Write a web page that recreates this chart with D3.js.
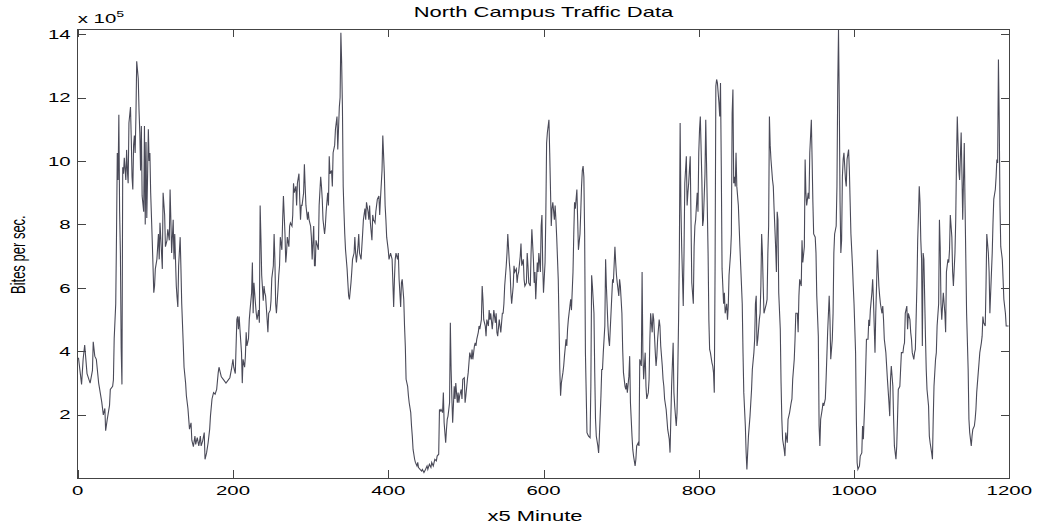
<!DOCTYPE html>
<html>
<head>
<meta charset="utf-8">
<script src="https://cdn.jsdelivr.net/npm/d3@7/dist/d3.min.js"></script>
<style>
  html, body { margin: 0; padding: 0; background: #fff; }
  svg { display: block; }
  text { font-family: "Liberation Sans", Arial, Helvetica, sans-serif; fill: #000; }
</style>
</head>
<body>
<svg id="chart" width="1039" height="528"></svg>
<script>
// North Campus traffic, one sample every 5 minutes; values in units of 10^5 bits/s.
const sampleIndex = [
  1,5,7,9,12,16,19,20,22,24,27,29,31,33,35,36,38,41,42,45,46,47,49,50,51,52,53,54,55,56,57,58,59,60,62,63,64,65,66,68,69,70,71,72,73,74,75,76,78,79,80,81,82,83,85,86,87,88,89,90,91,92,93,94,96,97,98,99,100,102,103,104,105,106,108,109,110,112,113,115,116,118,119,120,121,123,124,125,127,128,129,130,132,133,134,136,137,139,140,142,144,146,147,149,151,152,154,156,158,159,161,163,164,166,168,170,171,173,175,177,179,181,182,
  185,188,191,194,196,198,200,201,203,205,206,207,208,209,211,212,213,215,216,217,218,220,221,222,224,225,226,227,229,230,231,233,234,235,236,237,239,240,241,242,244,245,246,248,249,250,252,253,254,255,256,258,259,260,261,263,264,265,267,268,269,270,272,273,274,276,277,278,279,281,282,283,285,286,287,288,289,291,292,293,294,296,297,298,300,301,302,304,305,306,307,309,310,311,313,314,315,316,318,319,320,322,323,324,325,327,328,329,331,332,333,334,335,337,338,339,340,341,342,343,344,345,347,348,349,350,352,353,354,356,357,358,359,361,362,363,365,366,367,368,370,371,372,374,375,376,377,379,380,381,383,384,385,386,388,389,390,392,393,395,396,397,398,400,
  401,403,404,405,407,408,409,410,412,413,414,416,417,418,420,421,422,423,425,426,427,429,430,431,432,434,435,437,438,439,441,443,444,446,448,450,451,453,455,456,458,460,462,463,465,466,467,468,470,471,472,474,475,476,477,479,480,481,482,483,485,486,487,489,490,491,492,494,495,496,498,499,500,502,503,504,505,507,508,509,511,512,513,514,516,517,518,520,521,522,523,525,526,527,529,530,531,532,534,535,536,538,539,540,541,543,544,545,547,548,549,550,552,553,554,556,557,558,559,561,562,563,565,566,567,568,570,571,572,574,575,576,578,579,580,581,583,584,585,587,588,589,590,592,593,594,
  596,597,598,599,600,602,603,604,605,607,608,610,611,612,614,615,616,617,619,620,621,622,623,625,626,627,629,630,631,632,634,635,636,638,639,640,641,643,644,645,647,648,649,650,651,652,653,654,656,658,660,661,662,663,665,666,667,668,670,671,672,674,675,676,677,679,680,681,683,684,685,686,688,689,690,692,693,694,695,697,698,699,701,702,703,705,706,707,708,710,711,712,714,715,716,718,719,720,722,723,724,726,727,728,729,731,732,733,735,736,737,738,740,741,742,744,745,746,747,749,750,751,753,754,755,756,758,759,760,762,763,764,765,767,768,769,771,772,773,774,775,776,777,778,780,781,782,784,785,786,787,789,790,791,793,794,795,796,798,799,800,
  801,802,804,805,806,808,809,810,812,813,814,815,817,818,819,820,821,822,823,824,826,827,828,829,830,832,833,834,836,837,838,839,841,842,843,844,845,846,847,848,849,851,852,853,854,856,857,858,860,861,862,863,864,866,867,868,869,871,872,873,874,875,876,878,879,880,881,882,883,884,885,887,888,889,890,891,892,893,895,896,897,899,900,901,902,903,905,906,907,908,910,911,912,914,915,916,917,919,920,921,923,924,925,927,928,929,930,932,933,934,936,937,938,939,941,942,943,945,946,947,948,950,951,952,954,955,956,957,959,960,961,963,964,965,966,968,969,970,972,973,974,975,977,978,979,980,981,982,983,984,985,986,987,989,990,991,993,994,995,996,998,999,1000,1002,1003,1004,1005,1007,
  1008,1010,1011,1012,1014,1015,1016,1018,1019,1020,1021,1023,1024,1025,1027,1028,1029,1030,1032,1033,1034,1036,1037,1038,1039,1041,1042,1043,1045,1046,1047,1048,1050,1051,1052,1054,1055,1056,1057,1059,1060,1061,1063,1064,1065,1066,1068,1069,1070,1072,1073,1074,1075,1077,1078,1079,1081,1082,1083,1084,1085,1086,1087,1088,1089,1090,1092,1093,1094,1096,1097,1098,1100,1101,1102,1103,1105,1106,1107,1109,1110,1111,1112,1113,1114,1115,1117,1118,1119,1121,1122,1123,1124,1126,1127,1128,1130,1131,1132,1133,1134,1135,1136,1138,1139,1140,1142,1143,1144,1145,1147,1148,1149,1151,1152,1153,1155,1156,1157,1158,1160,1161,1162,1164,1165,1166,1167,1169,1170,1171,1173,1174,1175,1176,1178,1179,1180,1182,1183,1184,1185,1186,1187,1188,1189,1191,1192,1193,1195,1196,1198,1199
];
const bitsPerSec = [
  3.8,2.96,3.75,4.2,3.3,3.0,3.4,4.3,3.85,3.75,3.0,2.7,2.4,2.0,2.2,1.5,1.85,2.3,2.8,2.9,3.1,4.4,5.5,7.7,10.25,9.4,11.46,8.4,7.1,4.1,2.96,9.8,9.6,10.1,9.4,10.35,9.7,9.3,11.2,11.7,10.7,9.5,9.1,10.5,10.8,10.25,11.4,13.14,12.6,11.6,10.9,9.7,11.1,8.9,8.4,11.1,8.0,10.6,8.2,9.5,11.0,10.0,10.25,9.0,7.5,6.7,5.85,6.06,6.6,6.9,7.3,7.7,6.9,8.05,7.1,6.6,9.0,8.3,7.3,7.5,7.85,7.5,9.1,8.15,7.1,8.15,6.9,7.7,6.06,5.7,5.4,6.7,7.6,6.6,5.5,4.2,3.5,3.0,2.6,2.2,1.55,1.75,1.2,1.0,1.33,1.07,1.28,1.02,1.33,1.02,1.18,1.44,0.6,0.8,1.12,1.55,1.96,2.5,2.7,2.65,2.8,3.33,3.5,
  3.2,3.1,3.0,3.1,3.17,3.43,3.75,3.5,3.3,5.0,5.1,4.7,5.1,4.7,3.96,3.0,3.75,3.5,3.85,4.6,4.17,4.4,5.0,5.3,5.85,6.8,5.2,6.16,5.5,5.2,5.0,5.3,4.9,8.6,7.6,6.4,5.6,6.06,5.85,5.75,5.0,4.6,5.2,5.3,5.6,6.3,6.7,7.7,6.9,5.5,5.2,5.95,6.4,6.7,7.6,7.2,8.15,8.9,7.7,6.8,7.1,7.6,7.3,7.95,8.05,7.95,8.3,9.3,9.0,9.2,8.6,9.3,9.6,8.8,8.15,8.6,8.6,9.0,9.9,9.2,8.6,8.15,8.4,8.15,7.95,7.6,6.9,7.95,6.7,6.7,7.5,7.3,7.2,8.6,9.5,9.2,8.8,8.15,7.7,7.95,8.4,9.0,8.6,10.15,9.6,9.7,9.2,10.26,10.5,11.0,11.2,11.4,10.36,11.7,12.0,14.04,13.1,11.7,9.2,8.4,7.7,7.2,6.6,6.16,5.75,5.64,6.16,6.5,6.9,7.1,7.6,7.1,6.8,7.3,7.7,7.1,6.9,7.3,7.7,8.15,8.5,8.15,8.7,8.4,8.15,8.6,8.05,7.5,8.3,8.15,8.05,8.4,8.6,8.8,8.9,8.3,8.8,9.7,10.8,9.6,8.6,8.15,7.6,7.2,
  6.9,7.1,7.0,6.9,5.4,6.27,6.9,7.1,6.9,7.1,6.27,5.4,6.16,6.27,5.64,4.8,4.17,3.12,2.9,2.6,2.38,2.07,1.65,1.33,0.91,0.6,0.5,0.39,0.5,0.34,0.28,0.23,0.28,0.18,0.28,0.39,0.28,0.44,0.34,0.5,0.39,0.6,0.55,0.7,0.76,2.17,2.12,2.17,2.07,2.7,1.75,1.12,1.54,1.86,1.96,2.38,4.9,3.43,2.5,1.75,2.9,2.5,3.0,2.38,2.7,2.38,2.6,2.8,2.5,3.12,3.17,2.38,2.6,3.12,3.33,3.64,3.96,3.75,4.06,3.75,4.17,4.27,4.17,4.38,4.6,4.8,4.7,5.0,6.06,5.64,5.0,4.8,4.48,5.0,4.8,5.3,5.0,5.2,4.7,5.0,5.3,4.9,5.2,4.6,4.48,5.0,4.8,4.6,5.2,5.2,5.5,6.06,6.7,7.1,7.7,6.8,6.5,5.85,5.5,6.06,6.7,6.5,6.6,6.16,6.4,6.5,7.0,7.4,6.7,6.9,6.27,6.06,6.16,7.1,6.7,6.16,6.06,7.1,7.85,6.9,6.16,6.5,5.64,6.8,6.5,7.1,
  6.5,7.95,8.3,6.7,5.85,6.8,8.3,10.57,10.9,11.3,10.26,7.95,8.5,8.7,8.15,8.6,8.15,7.6,6.27,4.9,3.43,2.6,3.0,3.33,3.54,3.85,4.38,4.17,4.7,5.0,5.43,5.64,5.3,6.5,7.7,8.7,8.5,9.1,8.15,7.2,7.7,8.4,9.2,9.7,9.84,9.5,7.7,3.96,1.44,1.33,1.28,2.9,6.4,6.06,5.2,3.33,1.86,1.33,1.02,0.8,1.33,2.6,3.43,3.43,3.96,4.8,6.9,6.06,4.8,4.38,4.17,4.7,5.75,6.27,6.16,7.3,6.8,6.4,6.16,5.75,6.27,6.06,5.2,4.06,3.33,2.9,2.8,3.0,2.7,3.22,3.85,2.38,1.33,0.91,0.7,0.39,0.6,1.02,1.12,1.02,3.75,3.54,6.5,3.96,3.12,3.96,2.9,2.5,2.7,3.12,4.38,5.2,4.6,5.2,5.0,3.96,3.54,3.85,4.38,5.0,4.8,4.17,3.54,3.12,2.9,2.5,2.17,1.86,1.54,1.23,0.81,1.86,2.9,4.27,2.7,2.28,1.65,2.07,3.43,5.0,7.1,11.2,8.6,7.3,5.43,7.1,9.3,10.15,8.6,9.0,9.3,10.15,8.15,6.16,5.5,7.3,7.95,8.15,9.0,8.4,10.26,
  11.0,11.4,9.4,7.95,8.15,9.6,11.3,9.94,7.1,5.0,4.06,3.96,3.64,3.54,3.33,2.7,6.6,12.36,12.57,12.46,11.83,11.4,12.46,9.84,6.6,5.5,5.85,5.2,5.5,5.0,5.43,6.4,7.1,7.7,11.5,12.25,9.3,9.5,9.2,10.26,9.2,8.6,7.95,7.3,6.7,5.5,3.96,2.7,1.65,0.81,0.28,0.81,1.33,1.96,2.38,2.8,3.43,3.96,4.38,5.5,5.75,4.17,4.38,5.0,5.2,6.06,7.7,7.1,6.06,5.2,5.3,5.5,5.64,7.1,7.95,11.4,10.5,10.05,9.4,9.2,8.5,7.3,6.5,8.4,8.15,5.85,4.7,3.0,1.86,1.23,0.91,0.7,1.44,1.12,1.86,1.96,2.07,2.38,2.5,3.12,3.75,4.38,5.2,5.2,4.6,5.75,6.27,6.06,7.5,6.8,7.3,10.05,9.0,8.6,9.0,8.8,10.26,11.3,10.05,8.7,7.7,7.6,7.1,5.75,4.48,1.65,1.02,1.86,2.17,2.38,2.28,2.5,3.12,3.85,4.6,5.75,5.0,3.75,4.38,5.2,7.1,7.7,7.95,9.2,12.36,14.14,11.83,8.7,7.1,7.5,9.5,10.05,10.26,9.4,9.2,10.05,10.36,9.7,8.7,7.7,6.7,6.06,5.5,3.96,1.86,0.49,0.28,0.39,
  0.7,0.8,1.65,1.23,2.5,3.43,4.38,4.38,5.0,4.8,5.3,5.85,6.27,5.64,3.96,5.2,6.06,7.2,6.06,5.75,5.5,5.2,5.43,5.0,4.38,3.96,3.54,3.12,2.38,1.96,3.12,3.54,2.9,1.86,1.02,0.6,1.02,1.86,2.8,2.9,3.43,3.96,3.96,4.17,4.27,5.2,5.43,4.7,5.2,5.0,4.6,4.38,3.96,3.75,3.96,4.06,6.06,7.5,8.3,9.2,8.7,7.5,6.9,4.17,7.1,6.9,4.48,3.43,2.8,2.28,1.33,1.12,0.8,0.6,1.86,2.9,3.75,3.96,4.8,5.5,8.15,7.3,5.5,5.0,5.43,5.85,5.2,4.6,6.5,6.9,6.8,7.2,8.3,7.6,6.5,6.06,7.1,8.15,10.05,11.4,10.57,9.7,9.4,10.9,9.6,8.15,10.57,8.6,6.9,5.2,3.43,1.86,1.44,1.02,1.33,1.54,1.65,1.86,2.17,2.7,3.33,3.64,3.96,4.27,4.48,5.1,4.9,4.8,6.06,7.7,7.1,6.5,5.2,5.85,7.1,8.05,8.8,9.1,9.5,10.05,9.94,13.2,11.3,8.6,7.3,6.9,6.27,5.64,5.2,4.8,4.8,4.8
];
const xTicks = [0, 200, 400, 600, 800, 1000, 1200];
const yTicks = [2, 4, 6, 8, 10, 12, 14];

const svg = d3.select("#chart");
const plot = { left: 77.7, right: 1009.3, top: 29, bottom: 478.3 };
const stretch = 1.57; // horizontal stretch applied to every label

const x = d3.scaleLinear().domain([0, 1200]).range([plot.left, plot.right]);
const y = d3.scaleLinear().domain([0, 14.16]).range([plot.bottom, plot.top]);

// inward ticks on all four sides (box axes)
const tickLen = 8;
svg.append("g").attr("transform", `translate(0,${plot.bottom})`)
  .call(d3.axisBottom(x).tickValues(xTicks).tickSizeInner(-tickLen).tickSizeOuter(0).tickFormat(""));
svg.append("g").attr("transform", `translate(0,${plot.top})`)
  .call(d3.axisTop(x).tickValues(xTicks).tickSizeInner(-tickLen).tickSizeOuter(0).tickFormat(""));
svg.append("g").attr("transform", `translate(${plot.left},0)`)
  .call(d3.axisLeft(y).tickValues(yTicks).tickSizeInner(-tickLen).tickSizeOuter(0).tickFormat(""));
svg.append("g").attr("transform", `translate(${plot.right},0)`)
  .call(d3.axisRight(y).tickValues(yTicks).tickSizeInner(-tickLen).tickSizeOuter(0).tickFormat(""));
svg.selectAll(".domain").remove();
svg.selectAll(".tick line").attr("stroke", "#444").attr("shape-rendering", "crispEdges");

// data trace
const series = sampleIndex.map((d, i) => [d, bitsPerSec[i]]);
svg.append("path")
  .datum(series)
  .attr("fill", "none")
  .attr("stroke", "#4a4a58")
  .attr("stroke-width", 1.1)
  .attr("d", d3.line().x(d => x(d[0])).y(d => y(d[1])));

// axes box
svg.append("rect")
  .attr("x", plot.left).attr("y", plot.top)
  .attr("width", plot.right - plot.left).attr("height", plot.bottom - plot.top)
  .attr("fill", "none").attr("stroke", "#444").attr("shape-rendering", "crispEdges");

// tick labels
svg.append("g").selectAll("text").data(xTicks).join("text")
  .attr("transform", d => `translate(${x(d)},${plot.bottom + 17}) scale(${stretch},1)`)
  .attr("text-anchor", "middle").attr("font-size", 13).text(d => d);
svg.append("g").selectAll("text").data(yTicks).join("text")
  .attr("transform", d => `translate(${plot.left - 7},${y(d) + 4.6}) scale(${stretch},1)`)
  .attr("text-anchor", "end").attr("font-size", 13).text(d => d);

// exponent marker
const expo = svg.append("text")
  .attr("transform", `translate(${plot.left},23.3) scale(${stretch},1)`)
  .attr("font-size", 13);
expo.append("tspan").text("x 10");
expo.append("tspan").attr("font-size", 9).attr("dy", -6).text("5");

// title and axis labels
svg.append("text")
  .attr("transform", `translate(${(plot.left + plot.right) / 2},17.3) scale(${stretch},1)`)
  .attr("text-anchor", "middle").attr("font-size", 14).text("North Campus Traffic Data");
svg.append("text")
  .attr("transform", `translate(535,521) scale(${stretch},1)`)
  .attr("text-anchor", "middle").attr("font-size", 14).text("x5 Minute");
svg.append("text")
  .attr("transform", `translate(25,${(plot.top + plot.bottom) / 2 + 1}) scale(${stretch},1) rotate(-90)`)
  .attr("text-anchor", "middle").attr("font-size", 13).text("Bites per sec.");
</script>
</body>
</html>
